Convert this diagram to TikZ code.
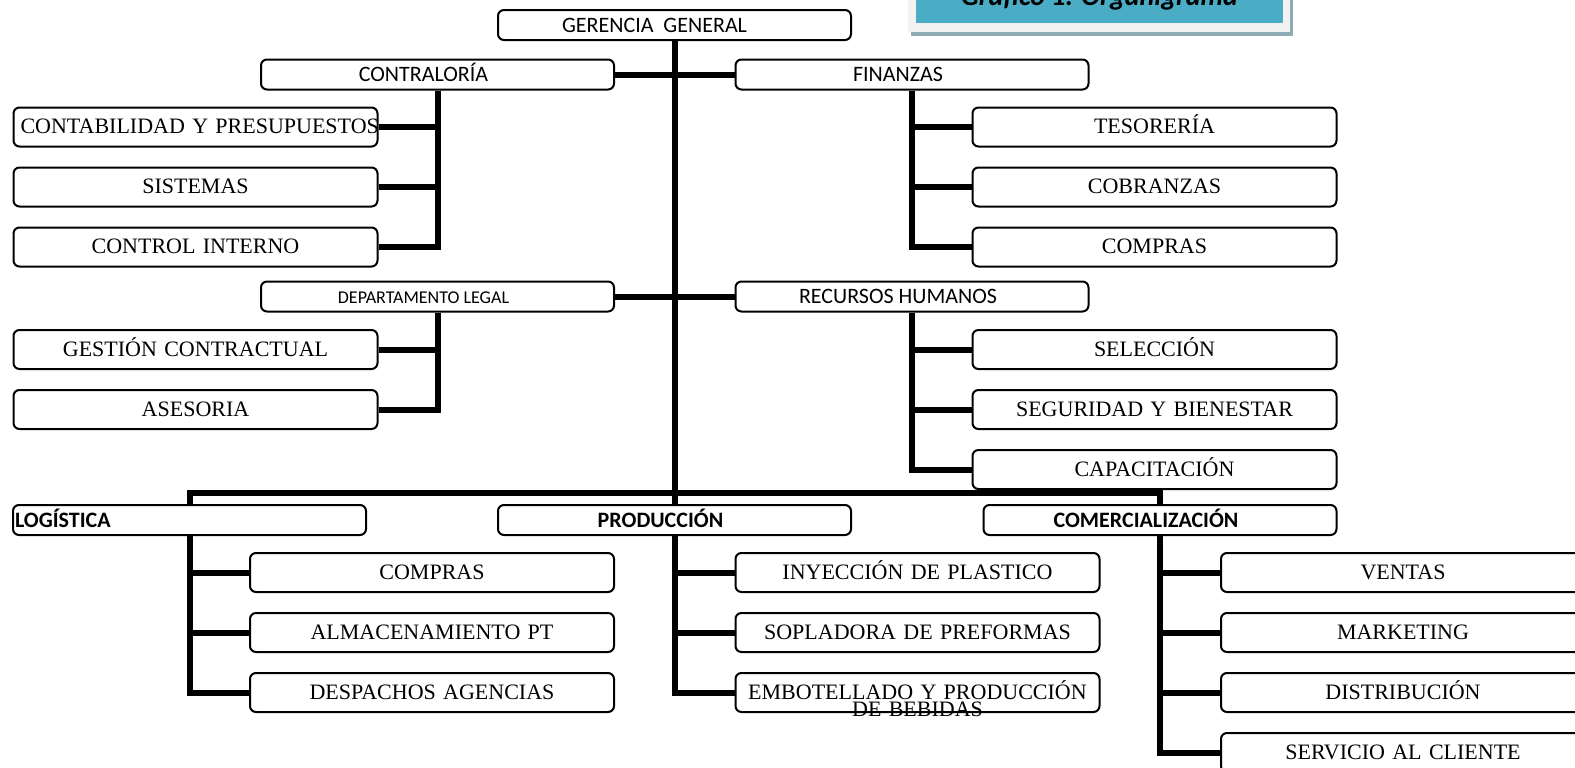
\documentclass[tikz,border=0pt]{standalone}
\usepackage{fontspec}
\setmainfont{Liberation Serif}
\newfontfamily\calibri{Carlito}
\usetikzlibrary{positioning}
\definecolor{titulo}{HTML}{4BACC6}
\definecolor{marco}{HTML}{F2F2F2}
\definecolor{sombra}{HTML}{8FABB5}

\begin{document}
\begin{tikzpicture}[x=0.5pt, y=-0.5pt,
    area/.style={draw, rounded corners=3pt, line width=1pt, fill=white, minimum width=176.5pt, minimum height=15pt, inner sep=0pt, text height=7pt, text depth=0pt, font=\calibri\fontsize{11}{13}\selectfont, execute at end node=\hspace*{14pt}},
    jefe/.style={area, font=\calibri\bfseries\fontsize{11}{13}\selectfont},
    sub/.style={draw, rounded corners=3pt, line width=1pt, fill=white, text width=175pt, inner xsep=3.5pt, inner ysep=0pt, minimum height=19.5pt, align=center, text height=7.3pt, text depth=0.5pt, font=\fontsize{11}{12}\selectfont},
    link/.style={line width=3pt},
    node distance=9.5pt]
    \useasboundingbox (0,0) rectangle (1575,767);
    \clip (0,0) rectangle (1575,767);

    % titulo
    \fill[sombra] (911,-30) rectangle (1293,36);
    \fill[marco] (908,-30) rectangle (1290,32);
    \node[fill=titulo, minimum width=183.5pt, minimum height=27pt, inner sep=0pt, text height=9pt, text depth=0pt, font=\calibri\bfseries\itshape\fontsize{14}{16}\selectfont] (graf) at (1099.5,-4) {Gráfico 1. Organigrama};

    % areas
    \node[area] (ger) at (674.5,25) {GERENCIA\ \ GENERAL\hspace*{6pt}};
    \node[area] (contra) at (437.5,74.5) {CONTRALORÍA};
    \node[area] (fin) at (912,74.5) {FINANZAS};
    \node[area] (legal) at (437.5,296.5) {\fontsize{9}{11}\selectfont DEPARTAMENTO LEGAL};
    \node[area] (rrhh) at (912,296.5) {RECURSOS HUMANOS};
    \node[jefe, text width=174.5pt, inner xsep=1pt, align=left, execute at end node={}] (log) at (189.5,520) {LOGÍSTICA};
    \node[jefe] (prod) at (674.5,520) {PRODUCCIÓN};
    \node[jefe] (com) at (1160,520) {COMERCIALIZACIÓN};

    % contraloria y finanzas
    \node[sub] (cyp) at (195.5,127) {\mbox{CONTABILIDAD Y PRESUPUESTOS}};
    \node[sub, below=of cyp] (sis) {SISTEMAS};
    \node[sub, below=of sis] (cint) {CONTROL INTERNO};
    \node[sub] (tes) at (1154.5,127) {TESORERÍA};
    \node[sub, below=of tes] (cob) {COBRANZAS};
    \node[sub, below=of cob] (fcomp) {COMPRAS};

    % legal y rrhh
    \node[sub] (gest) at (195.5,349.5) {GESTIÓN CONTRACTUAL};
    \node[sub, below=of gest] (ases) {ASESORIA};
    \node[sub] (sel) at (1154.5,349.5) {SELECCIÓN};
    \node[sub, below=of sel] (seg) {SEGURIDAD Y BIENESTAR};
    \node[sub, below=of seg] (cap) {CAPACITACIÓN};

    % logistica, produccion, comercializacion
    \node[sub] (lcomp) at (432,572.5) {COMPRAS};
    \node[sub, below=of lcomp] (alm) {ALMACENAMIENTO PT};
    \node[sub, below=of alm] (desp) {DESPACHOS AGENCIAS};
    \node[sub] (iny) at (917.5,572.5) {INYECCIÓN DE PLASTICO};
    \node[sub, below=of iny] (sop) {SOPLADORA DE PREFORMAS};
    \node[sub, below=of sop] (emb) {EMBOTELLADO Y PRODUCCIÓN\\[-3.5pt]DE BEBIDAS};
    \node[sub] (ven) at (1403,572.5) {VENTAS};
    \node[sub, below=of ven] (mkt) {MARKETING};
    \node[sub, below=of mkt] (dis) {DISTRIBUCIÓN};
    \node[sub, below=of dis] (sac) {SERVICIO AL CLIENTE};

    % lineas
    \coordinate (bus) at (674.5,493);
    \draw[link] (ger.south) -- (prod.north);
    \draw[link] (contra.east) -- (fin.west);
    \draw[link] (legal.east) -- (rrhh.west);
    \draw[link] (log.north) |- (bus) -| (com.north);

    \draw[link] (contra.south) |- (cyp.east);
    \draw[link] (contra.south) |- (sis.east);
    \draw[link] (contra.south) |- (cint.east);
    \draw[link] (fin.south) |- (tes.west);
    \draw[link] (fin.south) |- (cob.west);
    \draw[link] (fin.south) |- (fcomp.west);
    \draw[link] (legal.south) |- (gest.east);
    \draw[link] (legal.south) |- (ases.east);
    \draw[link] (rrhh.south) |- (sel.west);
    \draw[link] (rrhh.south) |- (seg.west);
    \draw[link] (rrhh.south) |- (cap.west);
    \draw[link] (log.south) |- (lcomp.west);
    \draw[link] (log.south) |- (alm.west);
    \draw[link] (log.south) |- (desp.west);
    \draw[link] (prod.south) |- (iny.west);
    \draw[link] (prod.south) |- (sop.west);
    \draw[link] (prod.south) |- (emb.west);
    \draw[link] (com.south) |- (ven.west);
    \draw[link] (com.south) |- (mkt.west);
    \draw[link] (com.south) |- (dis.west);
    \draw[link] (com.south) |- (sac.west);
\end{tikzpicture}
\end{document}
